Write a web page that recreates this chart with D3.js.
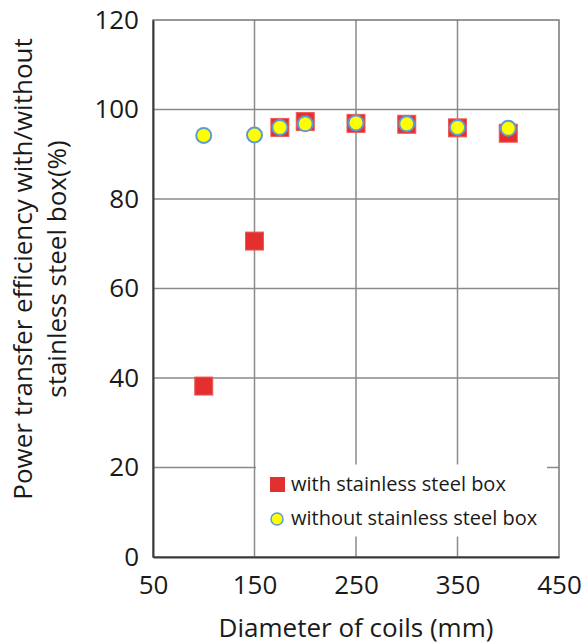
<!DOCTYPE html>
<html>
<head>
<meta charset="utf-8">
<script src="https://cdn.jsdelivr.net/npm/d3@7/dist/d3.min.js"></script>
<style>
  html, body { margin: 0; padding: 0; background: #fff; }
  svg text { font-family: "Open Sans", "Noto Sans", sans-serif; fill: #1a1a1a; }
</style>
</head>
<body>
<svg id="chart" width="587" height="644"></svg>
<script>
// Coil diameter (mm) and measured power transfer efficiency (%)
const diameters = [100, 150, 175, 200, 250, 300, 350, 400];
const withBox = [38.2, 70.6, 96.0, 97.3, 96.9, 96.7, 95.9, 94.7];
const withoutBox = [94.2, 94.3, 96.0, 96.8, 97.0, 96.8, 96.0, 95.8];

const xTicks = [50, 150, 250, 350, 450];
const yTicks = [0, 20, 40, 60, 80, 100, 120];

const seriesNames = ["with stainless steel box", "without stainless steel box"];
const xTitle = "Diameter of coils (mm)";
const yTitleLines = ["Power transfer efficiency with/without", "stainless steel box(%)"];

const W = 587, H = 644;
const margin = { left: 153, right: 28, top: 20, bottom: 87 };
const iw = W - margin.left - margin.right;
const ih = H - margin.top - margin.bottom;

const svg = d3.select("#chart");
const g = svg.append("g").attr("transform", `translate(${margin.left},${margin.top})`);

const x = d3.scaleLinear().domain([50, 450]).range([0, iw]);
const y = d3.scaleLinear().domain([0, 120]).range([ih, 0]);

const gridColor = "#8a8a8a";

// vertical gridlines
g.append("g").selectAll("line").data(xTicks.slice(1, -1)).join("line")
  .attr("x1", d => x(d)).attr("x2", d => x(d))
  .attr("y1", 0).attr("y2", ih)
  .attr("stroke", gridColor).attr("stroke-width", 1.5);

// horizontal gridlines
g.append("g").selectAll("line").data(yTicks.slice(1, -1)).join("line")
  .attr("x1", 0).attr("x2", iw)
  .attr("y1", d => y(d)).attr("y2", d => y(d))
  .attr("stroke", gridColor).attr("stroke-width", 1.5);

// plot frame
g.append("rect").attr("x", 0).attr("y", 0).attr("width", iw).attr("height", ih)
  .attr("fill", "none").attr("stroke", "#777").attr("stroke-width", 1.5);

// axes
const xAxis = g.append("g").attr("transform", `translate(0,${ih})`)
  .call(d3.axisBottom(x).tickValues(xTicks).tickSize(0).tickPadding(19).tickFormat(d3.format("d")));
const yAxis = g.append("g")
  .call(d3.axisLeft(y).tickValues(yTicks).tickSize(0).tickPadding(14).tickFormat(d3.format("d")));
[xAxis, yAxis].forEach(a => {
  a.select(".domain").attr("stroke", "#3a3a3a").attr("stroke-width", 2);
  a.selectAll("text").style("font-size", "26px").attr("fill", "#1a1a1a");
});

// legend background (hides gridlines beneath it)
const legend = g.append("g");
legend.append("rect")
  .attr("x", x(150) + 1.5).attr("y", y(20) - 3)
  .attr("width", 291).attr("height", 72)
  .attr("fill", "#fff");

// markers: squares first, circles drawn on top
const sq = 18;
g.append("g").selectAll("rect").data(diameters.map((d, i) => [d, withBox[i]])).join("rect")
  .attr("x", d => x(d[0]) - sq / 2).attr("y", d => y(d[1]) - sq / 2)
  .attr("width", sq).attr("height", sq)
  .attr("fill", "#e3302f").attr("stroke", "#ee5a55").attr("stroke-width", 1);

g.append("g").selectAll("circle").data(diameters.map((d, i) => [d, withoutBox[i]])).join("circle")
  .attr("cx", d => x(d[0])).attr("cy", d => y(d[1])).attr("r", 7.5)
  .attr("fill", "#ffff00").attr("stroke", "#5b9bd5").attr("stroke-width", 2);

// legend entries
const lx = 117, ly1 = 465, ly2 = 499;
legend.append("rect").attr("x", lx).attr("y", ly1 - 8).attr("width", 15).attr("height", 15)
  .attr("fill", "#e3302f");
legend.append("text").attr("x", lx + 21).attr("y", ly1 + 6).style("font-size", "20px").text(seriesNames[0]);
legend.append("circle").attr("cx", lx + 7).attr("cy", ly2).attr("r", 6)
  .attr("fill", "#ffff00").attr("stroke", "#5b9bd5").attr("stroke-width", 1.5);
legend.append("text").attr("x", lx + 21).attr("y", ly2 + 6).style("font-size", "20px").text(seriesNames[1]);

// axis titles
svg.append("text").attr("x", margin.left + x(250)).attr("y", 637)
  .attr("text-anchor", "middle").style("font-size", "26px").text(xTitle);

const yt = svg.append("text").attr("transform", "translate(0,269) rotate(-90)")
  .attr("text-anchor", "middle").style("font-size", "26px");
yt.append("tspan").attr("x", 0).attr("y", 32).text(yTitleLines[0]);
yt.append("tspan").attr("x", 0).attr("y", 66).text(yTitleLines[1]);
</script>
</body>
</html>
